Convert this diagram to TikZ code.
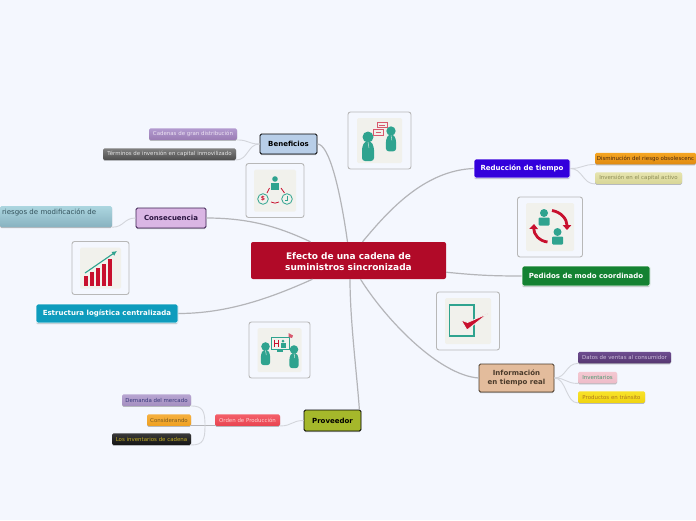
\documentclass[tikz,border=0pt]{standalone}
\usepackage{fontspec}
\setmainfont{DejaVu Sans}
\usepackage{xcolor}
\usetikzlibrary{shadows,arrows.meta,calc}

\definecolor{canvas}{HTML}{F4F7FE}
\definecolor{linemain}{HTML}{B4B5B9}
\definecolor{linesub}{HTML}{D3D5DB}
\definecolor{iconbg}{HTML}{F1F1EC}
\definecolor{iconteal}{HTML}{2FA38F}
\definecolor{iconred}{HTML}{C8102E}
\definecolor{maincolor}{HTML}{B10A28}
\definecolor{riestop}{HTML}{ACD6E0}
\definecolor{riesbot}{HTML}{88B2C0}
\definecolor{riestext}{HTML}{32505A}

\tikzset{
    softshadow/.style={general shadow={shadow xshift=0pt,shadow yshift=-1.2pt,fill=black,opacity=.25}},
    topicbox/.style={rounded corners=1.5pt,inner sep=0pt,align=center,font=\fontsize{7}{9.2}\selectfont\bfseries,softshadow},
    subbox/.style={rounded corners=1.5pt,inner sep=0pt,minimum height=11.5pt,font=\fontsize{5.45}{6.5}\selectfont,softshadow},
    cardbox/.style={draw=black!28,fill=canvas,line width=.9pt,rounded corners=2.5pt,inner sep=0pt},
    iconback/.style={fill=iconbg,rounded corners=1.5pt,inner sep=0pt},
    mainline/.style={draw=linemain,line width=1.2pt},
    subline/.style={draw=linesub,line width=.9pt},
}

% head at the origin of the scope, body below it
\newcommand{\personicon}[3]{
    \begin{scope}[shift={(#1,#2)},scale=#3]
        \fill[iconteal] (0,0) circle (5.5pt);
        \fill[iconteal,rounded corners=3pt] (-6,24) -- (-6,10) -- (-3,4) -- (3,4) -- (6,10) -- (6,24) -- cycle;
        \draw[iconbg,line width=.4pt] (0,5) -- (1,11);
    \end{scope}
}
\newcommand{\busticon}[2]{
    \begin{scope}[shift={(#1,#2)}]
        \fill[iconteal] (0,0) circle (4pt);
        \fill[iconteal,rounded corners=1pt] (-5.5,4.5) rectangle (5.5,12.5);
    \end{scope}
}

\begin{document}
\begin{tikzpicture}[x=1pt,y=-1pt]
    \useasboundingbox (0,0) rectangle (696,520);
    \fill[canvas] (0,0) rectangle (696,520);

    % picture cards
    \foreach \name/\x/\y/\w/\h/\s in {talk/379.5/140.5/63/57/45, roles/275/190.5/58/54/42, chart/100.5/268/57/53/41, meet/279.5/350/61/56/44, cycle/550/227/65/60/48, check/468/321/63/58/46} {
        \node[cardbox,minimum width=\w pt,minimum height=\h pt] (card\name) at (\x,\y) {};
        \node[iconback,minimum width=\s pt,minimum height=\s pt] (icon\name) at (\x,\y) {};
    }

    % central topic
    \node[rounded corners=2pt,minimum width=195pt,minimum height=37pt,fill=maincolor,text=white,inner sep=0pt,align=center,font=\fontsize{9}{11}\selectfont\bfseries] (main) at (348.5,260.5) {\rule{0pt}{10pt}Efecto de una cadena de\\suministros sincronizada};

    % main topics
    \foreach \name/\x/\y/\w/\h/\col/\edge/\txt/\label in {
        ben/288.5/144/57/20/B8CEE8/000000/000000/Beneficios,
        cons/171/218/70/20/DAB6E4/3A1E50/2A1440/Consecuencia,
        estr/107/313.5/142/19/0E9CBD/FFFFFF/FFFFFF/Estructura logística centralizada,
        prov/332.5/420.5/57/21/A5B82B/000000/000000/Proveedor,
        redu/522/168.5/96/19/3300DC/FFFFFF/FFFFFF/Reducción de tiempo,
        pedi/586/276/128/20/148232/FFFFFF/FFFFFF/Pedidos de modo coordinado} {
        \definecolor{boxfill}{HTML}{\col}
        \definecolor{boxedge}{HTML}{\edge}
        \definecolor{boxtext}{HTML}{\txt}
        \node[topicbox,fill=boxfill,draw=boxedge,line width=.8pt,text=boxtext,minimum width=\w pt,minimum height=\h pt] (\name) at (\x,\y) {\label};
    }
    \definecolor{boxfill}{HTML}{E3BC9C}
    \definecolor{boxedge}{HTML}{4A3A2A}
    \definecolor{boxtext}{HTML}{4A3A2A}
    \node[topicbox,fill=boxfill,draw=boxedge,line width=.8pt,text=boxtext,minimum width=75pt,minimum height=28pt] (info) at (516.5,378) {Información\\en tiempo real};

    % sub topics
    \foreach \name/\x/\w/\y/\coltop/\colbot/\txt/\label in {
        cade/193/88/134/B39BD0/9A7CB4/EDE4F4/Cadenas de gran distribución,
        term/169.5/133/154/808080/4E4E4E/E4E4E4/Términos de inversión en capital inmovilizado,
        dism/645.5/101/158.5/F5A623/E08A10/4A2A10/Disminución del riesgo obsolescenc,
        inve/638.5/87/178/E6E4AE/D8D698/8C8C56/Inversión en el capital activo,
        dato/624.5/93/357.5/6E4E90/553670/CDBFDC/Datos de ventas al consumidor,
        inva/597.5/39/377.5/F4C8D2/EEBCC8/4E9A72/Inventarios,
        prod/611.5/67/397/F8E22A/F0D410/B07A20/Productos en tránsito,
        orde/247.5/65/420/F4606A/E84450/FFD0D0/Orden de Producción,
        dema/156.5/69/400/B8A6D2/A48EC0/38387A/Demanda del mercado,
        cnsi/169/44/420/F5B040/EFA020/7A5A20/Considerando,
        lose/151.5/79/439/3A3A3A/141414/C4AE22/Los inventarios de cadena} {
        \definecolor{subtop}{HTML}{\coltop}
        \definecolor{subbot}{HTML}{\colbot}
        \definecolor{subtext}{HTML}{\txt}
        \node[subbox,top color=subtop,bottom color=subbot,text=subtext,minimum width=\w pt] (\name) at (\x,\y) {\label};
    }
    \node[subbox,top color=riestop,bottom color=riesbot,text=riestext,minimum width=112pt,minimum height=21pt,align=left,text width=108pt,font=\fontsize{7}{9}\selectfont] (ries) at (56,216.5) {riesgos de modificación de\\\ };

    % connectors of the central topic
    \draw[mainline] (ben.east) .. controls +(12,0) and +(-7,-50) .. ([xshift=-1pt]main.north);
    \draw[mainline] (cons.east) .. controls +(45,0) and +(-30,-14) .. ([xshift=-38pt]main.north);
    \draw[mainline] (estr.east) .. controls +(50,0) and +(-40,18) .. ([xshift=-36pt]main.south);
    \draw[mainline] (redu.west) .. controls +(-50,2) and +(25,-30) .. ([xshift=14pt]main.north);
    \draw[mainline] (pedi.west) .. controls +(-30,0) and +(30,3) .. ([yshift=7pt]main.south east);
    \draw[mainline] (info.west) .. controls +(-40,-3) and +(25,40) .. ([xshift=12pt]main.south);
    \draw[mainline] ([xshift=-2pt]prov.north east) .. controls +(-3,-40) and +(0,40) .. ([xshift=1.5pt]main.south);

    % connectors of the sub topics
    \foreach \from/\to/\a/\b in {ben.west/cade.south east/-12/12, ben.west/term.south east/-12/12, cons.west/ries.south east/-12/12, redu.east/dism.south west/12/-12, redu.east/inve.south west/12/-12, info.east/dato.south west/12/-12, info.east/inva.south west/12/-12, info.east/prod.south west/12/-12, prov.west/orde.south east/-12/12} {
        \draw[subline] (\from) .. controls +(\a,0) and +(\b,0) .. (\to);
    }
    \coordinate (ordejoin) at (205,426);
    \draw[subline,draw=linemain,line width=1pt] (orde.south west) -- (cnsi.south east);
    \draw[subline] (ordejoin) .. controls (205,411) and (203,406) .. (dema.south east);
    \draw[subline] (ordejoin) .. controls (205,440) and (203,445) .. (lose.south east);

    % talk icon
    \personicon{368}{137}{1}
    \personicon{391}{131}{.85}
    \draw[iconred!70,line width=.6pt,fill=iconbg] (377,122) rectangle (387,127.5);
    \draw[iconred!70,line width=.6pt,fill=iconbg] (373.5,129.5) rectangle (383,135.5);
    \draw[iconred!70,line width=.4pt] (379,124.8) -- (385,124.8);
    \draw[iconred!70,line width=.4pt] (375.5,132.5) -- (381,132.5);

    % roles icon
    \fill[iconteal] (275,179) circle (2.8pt);
    \fill[iconteal] (271,182.5) rectangle (279,190);
    \draw[iconteal,line width=.8pt] (263,199) circle (5.3pt);
    \draw[iconteal,line width=.8pt] (287,199) circle (5.3pt);
    \draw[iconteal,line width=.6pt] (287.5,195.5) -- (287.5,200) -- (284.5,200);
    \node[text=iconred,inner sep=0pt,font=\fontsize{6}{6}\selectfont\bfseries] (rolesign) at (263,199) {\$};
    \draw[iconred,line width=.8pt] (267,193) -- (269.5,188);
    \draw[iconred,line width=.8pt] (281,188) -- (284.5,193);
    \draw[iconred,line width=.8pt] (271,202) .. controls (274,203.5) and (276,203.5) .. (279,202);

    % chart icon
    \foreach \x/\y in {84.3/275.7, 90.2/272, 96/267.7, 102/263.7, 108/259.3} {
        \fill[iconred] (\x,\y) rectangle (\x+4,285.7);
    }
    \draw[iconteal,line width=1.1pt,-{Latex[length=5pt,width=5pt]}] (85,273) -- (117,251);

    % meeting icon
    \personicon{265.5}{346.5}{.78}
    \personicon{294}{349.5}{.78}
    \draw[iconteal,line width=.7pt] (271.5,337) rectangle (289,349);
    \fill[iconteal] (277,349) rectangle (283,351.5);
    \draw[iconred,line width=.5pt] (274.5,339.5) -- (274.5,347) (278,339.5) -- (278,347) (274.5,343) -- (278,343);
    \fill[iconteal] (283,341) circle (1.5pt);
    \fill[iconteal] (280.5,343) rectangle (285.5,347.5);
    \fill[iconred!70] (288.5,333) -- (293,335.5) -- (292,338) -- (288.5,337) -- cycle;

    % cycle icon
    \busticon{544}{213}
    \busticon{557.5}{232}
    \draw[iconred,line width=2.8pt,-{Triangle[length=5pt,width=8.5pt]}] (552,210.5) .. controls (561,212) and (567,219) .. (567,230);
    \draw[iconred,line width=2.8pt,-{Triangle[length=5pt,width=8.5pt]}] (547.5,242) .. controls (539,241) and (533.5,234) .. (534,224);

    % check icon
    \draw[iconteal,line width=1.1pt] (449.5,305) rectangle (474,336);
    \fill[iconred,draw=iconbg,line width=.8pt] (461,320) -- (467.5,322.5) -- (488,313.5) -- (467,330) -- cycle;
\end{tikzpicture}
\end{document}
